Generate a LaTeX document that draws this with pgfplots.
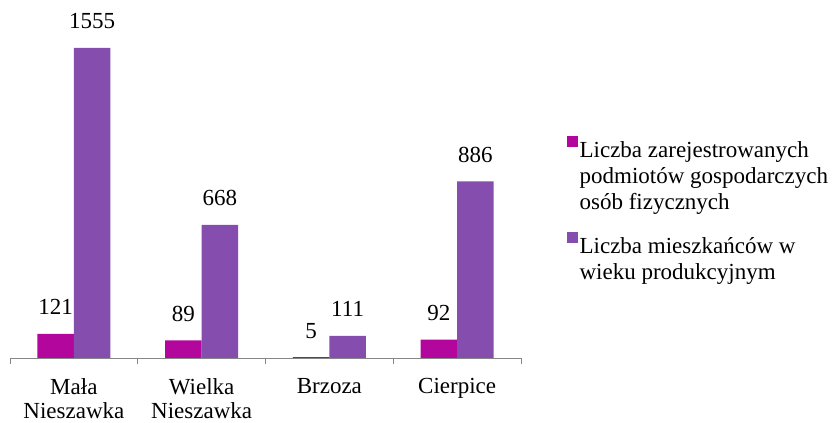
\documentclass[border=0pt]{standalone}
\usepackage{pgfplots}
\pgfplotsset{compat=1.18}
\usepackage{fontspec}
\setmainfont{Liberation Serif}
\definecolor{magbar}{HTML}{B2069D}
\definecolor{purbar}{HTML}{844DAE}
\definecolor{axgray}{HTML}{868686}
\pgfplotsset{
  sqlegend/.style={legend image code/.code={\fill[##1] (0pt,2pt) rectangle (11pt,13pt);}},
}
\newcommand{\legtext}[1]{\begin{tabular}[t]{@{}l@{}}#1\end{tabular}}
\begin{document}
\begin{tikzpicture}[x=1pt,y=1pt]
\useasboundingbox (0,0) rectangle (833,423);
\begin{axis}[
  at={(10pt,65pt)}, anchor=south west,
  scale only axis, width=511pt, height=348.9pt,
  ybar=0pt, bar width=36.5pt,
  xmin=0.5, xmax=4.5, ymin=0, ymax=1750,
  axis y line=none, axis x line*=bottom,
  x axis line style={draw=axgray, line width=0.9pt},
  xtick={0.5,1.5,2.5,3.5,4.5}, xticklabels={},
  major tick length=6pt, tick align=outside,
  tick style={draw=axgray, line width=0.9pt},
  extra x ticks={1,2,3,4},
  extra x tick labels={{Mała\\Nieszawka},{Wielka\\Nieszawka},{Brzoza},{Cierpice}},
  extra x tick style={major tick length=0pt,
    tick label style={align=center, font=\fontsize{23}{24}\selectfont, yshift=-17pt}},
  /pgf/number format/assume math mode=true,
  /pgf/number format/1000 sep={},
  nodes near coords,
  nodes near coords style={font=\fontsize{23}{24}\selectfont, anchor=base, yshift=19pt, black},
  legend style={at={(1.083,0.6425)}, anchor=north west, draw=none, fill=none,
    font=\fontsize{23}{26}\selectfont, row sep=71pt},
  legend cell align=left,
]
\addplot[fill=magbar, draw=none, sqlegend] coordinates {(1,121) (2,89) (3,5) (4,92)};
\addlegendentry{\legtext{Liczba zarejestrowanych\\podmiotów gospodarczych\\osób fizycznych}}
\addplot[fill=purbar, draw=none, sqlegend] coordinates {(1,1555) (2,668) (3,111) (4,886)};
\addlegendentry{\legtext{Liczba mieszkańców w\\wieku produkcyjnym}}
\end{axis}
\end{tikzpicture}
\end{document}
